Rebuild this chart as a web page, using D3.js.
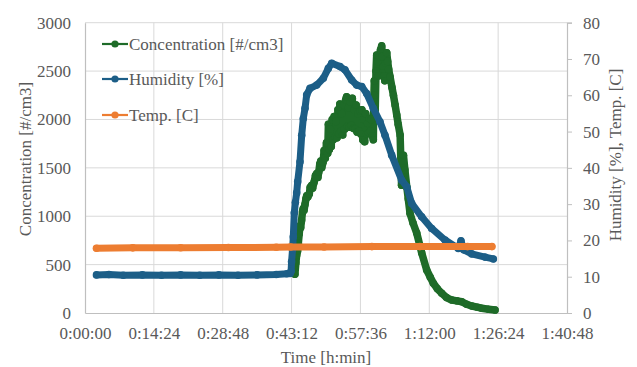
<!DOCTYPE html>
<html>
<head>
<meta charset="utf-8">
<script src="https://cdn.jsdelivr.net/npm/d3@7/dist/d3.min.js"></script>
<style>
  html, body { margin: 0; padding: 0; background: #fff; }
  svg { display: block; }
  svg text { font-family: "Liberation Serif", Tinos, "Times New Roman", Times, serif !important; fill: #595959; }
</style>
</head>
<body>
<svg id="chart" width="637" height="367"></svg>
<script>
// ---------- data (time in minutes) ----------
const xTickMinutes = [0, 14.4, 28.8, 43.2, 57.6, 72, 86.4, 100.8];
const concTicks = [0, 500, 1000, 1500, 2000, 2500, 3000];
const rightTicks = [0, 10, 20, 30, 40, 50, 60, 70, 80];

const seriesNames = ["Concentration [#/cm3]", "Humidity [%]", "Temp. [C]"];
const seriesColors = ["#1e6b28", "#1c5e87", "#ed7d31"];

const concTime = [43.9, 44.1, 44.27, 44.45, 44.61, 44.8, 44.96, 45.1, 45.3, 45.5, 45.65, 45.8, 46.0, 46.2, 46.36, 46.6, 46.9, 47.1, 47.41, 47.6, 47.9, 48.2, 48.45, 48.7, 48.9, 49.1, 49.3, 49.5, 49.8,
  50.0, 50.25, 50.5, 50.75, 50.9, 51.1, 51.3, 51.5, 51.7, 51.9, 52.1, 52.3, 52.5, 52.7, 52.9, 53.1, 53.3, 53.5, 53.7, 53.9, 54.1, 54.3, 54.5, 54.7, 54.9, 55.1, 55.3, 55.5, 55.7, 55.9, 56.1, 56.3, 56.5, 56.7, 56.9, 57.1, 57.3, 57.5, 57.7, 57.9, 58.1, 58.3, 58.5, 58.7, 58.9, 59.1, 59.3, 59.5, 59.7, 59.9, 60.1, 60.3,
  60.4, 60.5, 60.6, 60.7, 60.85, 61.0, 61.2, 61.4, 61.6, 61.8, 62.05, 62.2, 62.4, 62.55, 62.7, 62.9, 63.1, 63.3, 63.5, 63.8, 64.2, 64.5, 64.85, 65.2, 65.5, 65.9, 66.2, 66.4, 66.6, 66.9, 67.3, 67.6, 67.97, 68.6, 69.37, 70.42, 71.46, 72.2, 72.85, 73.7, 74.6, 75.6, 76.7, 77.8, 78.8, 79.8, 80.87, 82.0, 82.96, 84.4, 85.74];
const concValue = [400, 520, 600, 640, 720, 820, 900, 880, 960, 1050, 1080, 1060, 1120, 1180, 1210, 1200, 1230, 1300, 1320, 1290, 1350, 1420, 1440, 1400, 1460, 1540, 1570, 1500, 1560,
  1680, 1600, 1760, 1650, 1950, 1690, 1900, 1720, 2000, 1790, 2030, 1820, 1980, 1810, 2100, 1850, 2160, 1880, 2060, 1840, 2150, 1900, 2200, 2235, 1930, 2120, 1920, 2180, 1940, 2220, 1910, 2100, 1900, 2150, 1870, 2060, 1880, 2090, 1850, 2100, 1790, 2000, 1770, 2060, 1850, 1960, 1860, 2010, 1880, 2000, 1830, 1790,
  2200, 2400, 2250, 2100, 2500, 2666, 2600, 2450, 2650, 2720, 2760, 2650, 2550, 2450, 2400, 2580, 2690, 2600, 2520, 2440, 2330, 2250, 2150, 2046, 1950, 1840, 1320, 1500, 1630, 1480, 1300, 1180, 1030, 930, 827, 620, 444, 370, 307, 250, 204, 160, 134, 125, 117, 90, 72, 60, 49, 38, 31];

const humTime = [2.4, 5, 8, 12, 16, 20, 24, 28, 32, 36, 40, 42.2, 42.9, 43.1, 43.2, 43.4, 43.56, 43.77, 44.0, 44.27, 44.48, 44.96, 45.32, 45.65, 46.01, 46.36, 47.05, 48.45, 49.84, 50.88, 51.59, 53.33, 54.37, 55.77, 56.82, 57.87, 58.91, 60.29, 61.69, 62.74, 64.14, 66.23, 67.28, 68.32, 70.41, 72.5, 75.29, 78.07, 78.63, 79.2, 80.87, 83.65, 85.39];
const humValue = [10.5, 10.6, 10.4, 10.5, 10.4, 10.5, 10.4, 10.5, 10.4, 10.5, 10.6, 10.8, 10.9, 11.5, 14.1, 17.5, 21.0, 27.6, 30.5, 33.1, 36.2, 41.7, 49.0, 53.6, 56.4, 60.1, 61.9, 62.8, 64.7, 67.4, 68.8, 67.9, 67.0, 64.2, 62.8, 62.4, 60.5, 56.4, 52.7, 49.0, 43.5, 36.6, 34.8, 30.2, 26.5, 23.3, 20.1, 17.8, 19.9, 17.4, 16.3, 15.4, 14.9];

const tempTime = [2.4, 10, 20, 30, 40, 43, 50, 60, 70, 80, 85.1];
const tempValue = [17.85, 17.95, 18.0, 18.05, 18.1, 18.2, 18.2, 18.3, 18.3, 18.3, 18.3];

// ---------- layout ----------
const svg = d3.select("#chart");
const plotL = 85, plotR = 567, plotT = 22.7, plotB = 313;
const gridColor = "#d9d9d9", axisColor = "#bfbfbf";
const fontSize = 17;
const fontFam = '"Liberation Serif", Tinos, "Times New Roman", Times, serif';

const x = d3.scaleLinear().domain([0, 100.8]).range([plotL, plotR]);
const yL = d3.scaleLinear().domain([0, 3000]).range([plotB, plotT]);
const yR = d3.scaleLinear().domain([0, 80]).range([plotB, plotT]);

function fmtTime(m) {
  const totalSec = Math.round(m * 60);
  const h = Math.floor(totalSec / 3600);
  const mm = Math.floor((totalSec % 3600) / 60);
  const ss = totalSec % 60;
  return h + ":" + String(mm).padStart(2, "0") + ":" + String(ss).padStart(2, "0");
}

svg.append("rect").attr("width", 637).attr("height", 367).attr("fill", "#fff");

// gridlines
svg.append("g").selectAll("line").data(concTicks.slice(1)).join("line")
  .attr("x1", plotL).attr("x2", plotR)
  .attr("y1", d => yL(d)).attr("y2", d => yL(d))
  .attr("stroke", gridColor).attr("stroke-width", 1);
svg.append("g").selectAll("line").data(xTickMinutes.slice(1, -1)).join("line")
  .attr("x1", d => x(d)).attr("x2", d => x(d))
  .attr("y1", plotT).attr("y2", plotB)
  .attr("stroke", gridColor).attr("stroke-width", 1);

// axes
const gx = svg.append("g").attr("transform", `translate(0,${plotB})`)
  .call(d3.axisBottom(x).tickValues(xTickMinutes).tickFormat(fmtTime).tickSize(0).tickPadding(14));
const gl = svg.append("g").attr("transform", `translate(${plotL},0)`)
  .call(d3.axisLeft(yL).tickValues(concTicks).tickFormat(d3.format("d")).tickSize(0).tickPadding(14));
const gr = svg.append("g").attr("transform", `translate(${plotR},0)`)
  .call(d3.axisRight(yR).tickValues(rightTicks).tickFormat(d3.format("d")).tickSize(5).tickPadding(11));
[gx, gl, gr].forEach(g => {
  g.attr("font-family", fontFam);
  g.select(".domain").attr("stroke", axisColor).attr("stroke-width", 1.2);
  g.selectAll(".tick line").attr("stroke", axisColor);
  g.selectAll("text").attr("font-size", fontSize).attr("fill", "#595959");
});
gx.selectAll("text").attr("dy", "0.71em");

// axis titles
svg.append("text").attr("x", (plotL + plotR) / 2).attr("y", 363)
  .attr("text-anchor", "middle").attr("font-size", fontSize).text("Time [h:min]");
svg.append("text").attr("transform", "translate(31,159) rotate(-90)")
  .attr("text-anchor", "middle").attr("font-size", fontSize).text("Concentration  [#/cm3]");
svg.append("text").attr("transform", "translate(621,155) rotate(-90)")
  .attr("text-anchor", "middle").attr("font-size", fontSize).text("Humidity [%], Temp. [C]");

// series
const conc = concTime.map((t, i) => [t, concValue[i]]);
const hum = humTime.map((t, i) => [t, humValue[i]]);
const temp = tempTime.map((t, i) => [t, tempValue[i]]);

function drawSeries(data, yScale, color, w) {
  const g = svg.append("g");
  g.append("path").datum(data)
    .attr("d", d3.line().x(d => x(d[0])).y(d => yScale(d[1])))
    .attr("fill", "none").attr("stroke", color)
    .attr("stroke-width", w).attr("stroke-linejoin", "round").attr("stroke-linecap", "round");
  g.selectAll("circle").data(data).join("circle")
    .attr("cx", d => x(d[0])).attr("cy", d => yScale(d[1])).attr("r", 3.8).attr("fill", color);
}
drawSeries(conc, yL, seriesColors[0], 7.5);
drawSeries(hum, yR, seriesColors[1], 7);
drawSeries(temp, yR, seriesColors[2], 7);

// legend
const legendY = [44, 79, 115];
const lg = svg.append("g");
seriesNames.forEach((name, i) => {
  lg.append("line").attr("x1", 102).attr("x2", 128).attr("y1", legendY[i]).attr("y2", legendY[i])
    .attr("stroke", seriesColors[i]).attr("stroke-width", 2.2);
  lg.append("circle").attr("cx", 115).attr("cy", legendY[i]).attr("r", 3.6).attr("fill", seriesColors[i]);
  lg.append("text").attr("x", 129).attr("y", legendY[i]).attr("dy", "0.35em")
    .attr("font-size", fontSize).text(name);
});
</script>
</body>
</html>
